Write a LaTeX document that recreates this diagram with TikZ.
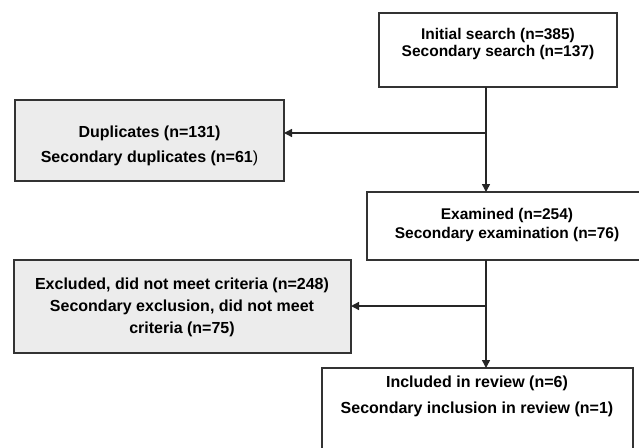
\documentclass[tikz,border=0pt]{standalone}
\usepackage{fontspec}
\setmainfont{Liberation Sans}
\usepackage{tikz}
\usetikzlibrary{calc,arrows.meta}

\begin{document}
\begin{tikzpicture}[x=1pt, y=-1pt, inner sep=0, outer sep=0,
        box/.style={draw=black!80, line width=1.3pt, fill=white},
        greybox/.style={box, fill=gray!15},
        boxtext/.style 2 args={align=center, text=black, font=\bfseries\fontsize{#1}{#2}\selectfont},
        flow/.style={draw=black!85, line width=1.4pt, -{Triangle[length=8pt,width=8pt]}}]

        \useasboundingbox (0,0) rectangle (639,447);

        % boxes
        \node [box, minimum width=238pt, minimum height=74pt] (search) at (498,50) {};
        \node [greybox, minimum width=269pt, minimum height=81pt] (dups) at (149.5,140.5) {};
        \node [box, minimum width=275pt, minimum height=68pt] (exam) at (504.5,226) {};
        \node [greybox, minimum width=337pt, minimum height=93pt] (excl) at (182.5,306.5) {};
        \node [box, minimum width=311pt, minimum height=102pt] (incl) at (477.5,419) {};

        % texts
        \node [boxtext={15.5}{17}] (searchTxt) at (498,43.5) {Initial search (n=385)\\Secondary search (n=137)};
        \node [boxtext={16}{25}] (dupsTxt) at (149.5,146) {Duplicates (n=131)\\Secondary duplicates (n=61{\mdseries )}};
        \node [boxtext={15.5}{19}] (examTxt) at (507,224.5) {Examined (n=254)\\Secondary examination (n=76)};
        \node [boxtext={16}{22}] (exclTxt) at (182,307) {Excluded, did not meet criteria (n=248)\\Secondary exclusion, did not meet\\criteria (n=75)};
        \node [boxtext={16}{26}] (inclTxt) at (477,396) {Included in review (n=6)\\Secondary inclusion in review (n=1)};

        % connectors
        \coordinate (spineA) at (486,133);
        \coordinate (spineB) at (486,306);
        \draw [flow] (search.south -| spineA) -- (exam.north -| spineA);
        \draw [flow] (spineA) -- (spineA -| dups.east);
        \draw [flow] (exam.south -| spineB) -- (incl.north -| spineB);
        \draw [flow] (spineB) -- (spineB -| excl.east);

\end{tikzpicture}
\end{document}
